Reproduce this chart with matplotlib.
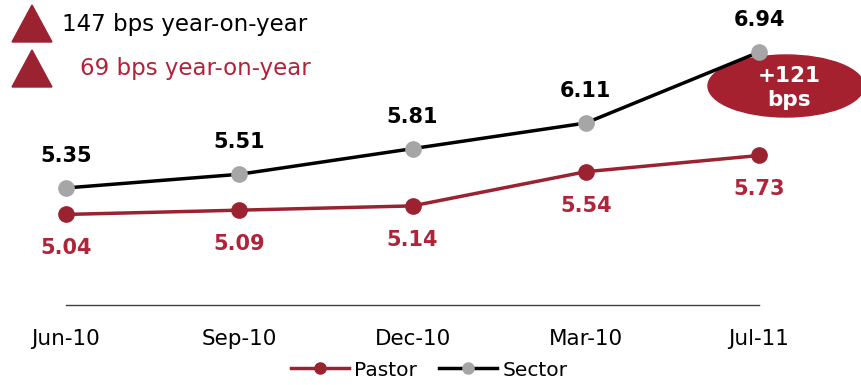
import matplotlib.pyplot as plt
from matplotlib.patches import Ellipse, Polygon
from matplotlib.lines import Line2D

# Quarterly values
quarters = ['Jun-10', 'Sep-10', 'Dec-10', 'Mar-10', 'Jul-11']
pastor = [5.04, 5.09, 5.14, 5.54, 5.73]
sector = [5.35, 5.51, 5.81, 6.11, 6.94]

red = '#9B2230'
red_text = '#B0243A'
grey = '#A6A6A6'

W, H = 861, 385
fig = plt.figure(figsize=(W / 100, H / 100), dpi=100)
ax = fig.add_axes([66 / W, 1 - 305 / H, (759 - 66) / W, 305 / H])

x = range(len(quarters))
ax.plot(x, sector, color='black', lw=2.5, marker='o', ms=11,
        mfc=grey, mec=grey, zorder=4, clip_on=False)
ax.plot(x, pastor, color=red, lw=2.5, marker='o', ms=11,
        mfc=red, mec=red, zorder=4, clip_on=False)

for i, v in enumerate(sector):
    ax.annotate(f'{v:.2f}', (i, v), xytext=(0, 32), textcoords='offset pixels',
                ha='center', va='center', fontsize=15, fontweight='bold',
                color='black')
for i, v in enumerate(pastor):
    ax.annotate(f'{v:.2f}', (i, v), xytext=(0, -34), textcoords='offset pixels',
                ha='center', va='center', fontsize=15, fontweight='bold',
                color=red_text)

ax.set_xlim(0, 4)
ax.set_ylim(3.98, 7.55)
ax.set_xticks(list(x))
ax.set_xticklabels(quarters, fontsize=15.5)
ax.tick_params(axis='x', length=0, pad=17)
ax.set_yticks([])
for s in ['top', 'left', 'right']:
    ax.spines[s].set_visible(False)
ax.spines['bottom'].set_color('#404040')
ax.spines['bottom'].set_linewidth(1)

# Headline increases
for top, bot in [(5, 42), (50, 87)]:
    tri = Polygon([(12 / W, 1 - bot / H), (52 / W, 1 - bot / H), (32 / W, 1 - top / H)],
                  closed=True, transform=fig.transFigure, color=red)
    fig.add_artist(tri)
fig.text(62 / W, 1 - 24 / H, '147 bps year-on-year', fontsize=16.5,
         color='black', va='center', ha='left')
fig.text(80 / W, 1 - 69 / H, '69 bps year-on-year', fontsize=16.5,
         color=red_text, va='center', ha='left')

# Gap bubble, drawn under the lines
ell = Ellipse((786 / W, 1 - 86 / H), 156 / W, 62 / H, transform=fig.transFigure,
              color='#A5212F', zorder=2, clip_on=False)
ax.add_patch(ell)
fig.text(789 / W, 1 - 88 / H, '+121\nbps', fontsize=15.5, fontweight='bold',
         color='white', ha='center', va='center', zorder=6)

handles = [Line2D([], [], color=red, lw=2.5, marker='o', ms=8, mfc=red, mec=red),
           Line2D([], [], color='black', lw=2.5, marker='o', ms=8, mfc=grey, mec=grey)]
fig.legend(handles, ['Pastor', 'Sector'], loc='center', bbox_to_anchor=(429 / W, 1 - 370 / H),
           ncol=2, frameon=False, fontsize=14.5, handlelength=2.9, columnspacing=1.1,
           handletextpad=0.25, borderpad=0)

fig.savefig('out.png', dpi=100)
